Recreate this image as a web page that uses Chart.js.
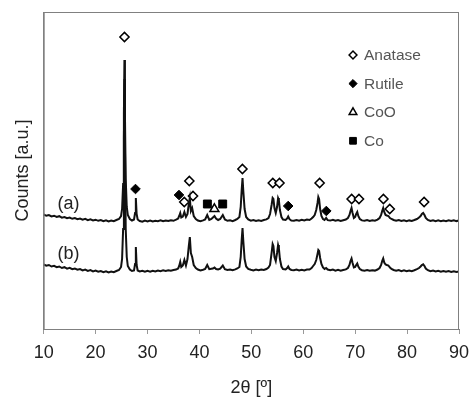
<!DOCTYPE html>
<html>
<head>
<meta charset="utf-8">
<script src="https://cdn.jsdelivr.net/npm/chart.js@4.4.0/dist/chart.umd.min.js"></script>
<style>
  body { margin: 0; background: #fff; }
  #wrap { width: 471px; height: 397px; }
</style>
</head>
<body>
<div id="wrap"><canvas id="myChart" width="471" height="397"></canvas></div>
<script>
// 2theta positions (deg), one line per region
const twoTheta = [
  10, 10.5, 11, 11.5, 12, 12.5, 13, 13.5, 14, 14.5, 15, 15.5, 16, 16.5, 17, 17.5, 18, 18.5, 19, 19.5, 20, 20.5, 21, 21.5, 22, 22.5, 23, 23.5, 24,
  24.5, 24.9, 25.1, 25.3, 25.45, 25.55, 25.65, 25.8, 26.0, 26.2, 26.6, 27.0,
  27.4, 27.6, 27.75, 27.9, 28.1,
  28.5, 29, 29.5, 30, 30.5, 31, 31.5, 32, 32.5, 33, 33.5, 34, 34.5, 35, 35.5,
  35.9, 36.1, 36.3, 36.5, 36.8, 37.1, 37.4, 37.7, 37.95, 38.15, 38.35, 38.6, 38.9, 39.3,
  39.7, 40.2, 40.7, 41.1, 41.5, 41.9, 42.3, 42.6, 42.9, 43.2, 43.6, 44.0, 44.5, 44.9, 45.4, 45.9, 46.4, 46.9, 47.3,
  47.7, 47.95, 48.15, 48.3, 48.45, 48.7, 49.0, 49.4,
  49.9, 50.4, 50.9, 51.4, 51.9, 52.4, 52.9, 53.3,
  53.6, 53.9, 54.1, 54.25, 54.45, 54.7, 54.95, 55.15, 55.3, 55.5, 55.8, 56.1,
  56.6, 56.9, 57.1, 57.35, 57.7,
  58.2, 58.7, 59.2, 59.7, 60.2, 60.7, 61.2, 61.6, 61.9,
  62.2, 62.5, 62.75, 62.9, 63.05, 63.25, 63.5, 63.8,
  64.1, 64.4, 64.7,
  65.2, 65.7, 66.2, 66.7, 67.2, 67.7, 68.2, 68.6,
  68.9, 69.1, 69.3, 69.5, 69.75, 70.0, 70.2, 70.4, 70.6, 70.9, 71.3,
  71.8, 72.3, 72.8, 73.3, 73.8, 74.3, 74.7,
  75.0, 75.2, 75.4, 75.6, 75.85, 76.1, 76.4, 76.7, 77.0, 77.4,
  77.9, 78.4, 78.9, 79.4, 79.9, 80.4, 80.9, 81.4, 81.9, 82.3,
  82.6, 82.85, 83.1, 83.35, 83.6, 84.0,
  84.5, 85, 85.5, 86, 86.5, 87, 87.5, 88, 88.5, 89, 89.5, 90
];

// pattern (a), counts in a.u. (offset upward)
const countsA = [
  114.5, 113.2, 114, 112.6, 113.3, 112, 112.8, 111.4, 112, 110.8, 111.5, 110.2, 111, 109.8, 110.5, 109.3, 110.1, 108.8, 109.6, 108.5, 109.3, 108.2, 109, 107.8, 108.7, 107.6, 108.5, 107.9, 109,
  110, 113, 120, 145, 215, 269, 215, 150, 122, 114, 110, 108.5,
  109.5, 116, 131, 115, 109.5,
  108, 107.3, 108.4, 107.6, 108.5, 107.5, 108.3, 107.8, 108.6, 107.7, 108.4, 108, 108.8, 108.2, 109.3,
  110.5, 113, 116, 111.5, 112.5, 117, 112, 115, 125, 131, 118, 121, 113, 110,
  108.5, 107.8, 108.6, 109.5, 114, 109, 110, 111.5, 113, 110.5, 109, 110, 114, 109.5, 108.2, 108.8, 107.9, 109, 110,
  112, 122, 140, 151, 138, 120, 112, 109.5,
  108.3, 109, 108, 108.8, 108.1, 109, 109.6, 111,
  115, 124, 131, 130, 121, 116, 122, 131, 129, 119, 112, 109.5,
  109, 110.5, 112.5, 109.8, 108.5,
  108.2, 109, 108.3, 109.2, 108.5, 109.4, 109, 110.5, 112,
  114, 119, 126, 132, 130, 120, 113, 110,
  109, 111, 108.8,
  108.4, 109.1, 108.2, 108.9, 108, 108.8, 109.5, 111,
  114, 118, 121, 116, 111, 112, 115, 117, 113, 110, 108.6,
  108.2, 108.9, 108, 108.7, 108.3, 109.4, 111,
  114, 118, 121, 117, 114, 113.5, 113, 111, 110, 109,
  108.2, 108.9, 108, 108.7, 107.9, 108.6, 108.1, 109, 110, 111.5,
  113, 115, 116, 114, 111, 109,
  108, 108.8, 107.9, 108.6, 107.8, 108.5, 107.9, 108.7, 108, 108.6, 107.9, 108.4
];

// pattern (b)
const countsB = [
  64.5, 63.3, 64, 62.5, 63.2, 61.8, 62.5, 61, 61.8, 60.4, 61.2, 59.8, 60.5, 59.3, 60, 58.6, 59.4, 58.1, 58.9, 57.6, 58.4, 57.3, 58, 56.9, 57.7, 56.6, 57.5, 56.9, 58,
  59, 62, 70, 100, 190, 250, 185, 100, 72, 63, 59.5, 58,
  58.5, 65, 82, 64, 58.5,
  57.6, 58.2, 57.2, 58.1, 57.4, 58.3, 57.6, 58.5, 57.8, 58.6, 58, 58.8, 58.2, 59, 59.4,
  60.5, 63, 67, 62, 63.5, 69, 63.5, 70, 83, 92, 76, 72, 64, 61,
  59.5, 58.6, 59.3, 60, 64, 59.8, 60.2, 60.5, 61.5, 60, 59.6, 60.3, 63.5, 59.8, 59, 59.5, 58.8, 59.6, 60.5,
  62, 72, 90, 101, 88, 70, 62.5, 60,
  59.2, 58.6, 59.4, 58.8, 59.5, 59, 60, 61.5,
  64, 76, 85, 83, 72, 68, 76, 84, 81, 70, 62.5, 60,
  59.5, 61, 62.5, 60, 59,
  58.8, 59.5, 58.6, 59.3, 58.5, 59.4, 59.5, 61, 63,
  65, 69, 75, 79, 78, 71, 65, 61.5,
  60, 61, 59.5,
  58.8, 59.4, 58.4, 59.1, 58.3, 59, 59.6, 61,
  64, 68, 70.5, 66, 61.5, 62, 64, 65.5, 62.5, 60, 58.8,
  58.3, 59, 58.2, 58.8, 58.4, 59.5, 61,
  64, 68, 70.5, 66.5, 64.5, 64, 63.5, 61.5, 60, 59,
  58.2, 58.9, 57.9, 58.6, 57.8, 58.5, 57.9, 58.8, 59.8, 61,
  62.5, 64, 64.7, 63, 60.5, 58.8,
  57.8, 58.4, 57.5, 58.2, 57.3, 58, 57.2, 57.9, 57.1, 57.8, 57, 57.5
];

// phase markers placed above the peaks
const anataseX = [25.56, 37.08, 38.05, 38.76, 48.28, 54.13, 55.42, 63.15, 69.32, 70.73, 75.44, 76.66, 83.28];
const anataseY = [292, 127, 148, 133, 160, 146, 146, 146, 130, 130, 130, 120, 127];
const rutileX = [27.68, 36.06, 57.1, 64.44];
const rutileY = [140, 134, 123, 118];
const cooX = [42.88];
const cooY = [120];
const coX = [41.53, 44.48];
const coY = [125, 125];

const phaseNames = ["Anatase", "Rutile", "CoO", "Co"];
const xTicks = [10, 20, 30, 40, 50, 60, 70, 80, 90];

const FONT = "'Liberation Sans', Arial, sans-serif";

function toPoints(xs, ys) {
  return xs.map(function (x, i) {
    return { x: x, y: ys[i] };
  });
}

// marker styles, also used by the legend
const markerStyles = [
  { pointStyle: "rectRot", radius: 4.6, fill: "#fff", border: "#000", bw: 1.5 },
  { pointStyle: "rectRot", radius: 4.8, fill: "#000", border: "#000", bw: 1 },
  { pointStyle: "triangle", radius: 5.2, fill: "#fff", border: "#000", bw: 1.5 },
  { pointStyle: "rect", radius: 5.6, fill: "#000", border: "#000", bw: 1 },
];

function markerSet(label, xs, ys, st) {
  return {
    label: label,
    type: "scatter",
    data: toPoints(xs, ys),
    pointStyle: st.pointStyle,
    pointRadius: st.radius,
    pointBackgroundColor: st.fill,
    pointBorderColor: st.border,
    pointBorderWidth: st.bw,
    showLine: false,
  };
}

// frame, legend and the (a)/(b) labels
const decor = {
  id: "decor",
  afterDatasetsDraw: function (chart) {
    const ctx = chart.ctx;
    const a = chart.chartArea;
    const xs = chart.scales.x;
    const ys = chart.scales.y;
    ctx.save();
    ctx.strokeStyle = "#808080";
    ctx.lineWidth = 1;
    ctx.strokeRect(a.left + 0.5, a.top + 0.5, a.right - a.left - 1, a.bottom - a.top);

    ctx.fillStyle = "#222";
    ctx.font = "18px " + FONT;
    ctx.textAlign = "center";
    ctx.textBaseline = "middle";
    ctx.fillText("(a)", xs.getPixelForValue(14.8), ys.getPixelForValue(125));
    ctx.fillText("(b)", xs.getPixelForValue(14.8), ys.getPixelForValue(75));

    // legend
    ctx.font = "15.5px " + FONT;
    ctx.textAlign = "left";
    for (let i = 0; i < phaseNames.length; i++) {
      const st = markerStyles[i];
      const y = 55 + i * 28.6;
      ctx.fillStyle = st.fill;
      ctx.strokeStyle = st.border;
      ctx.lineWidth = st.bw;
      Chart.helpers.drawPoint(ctx, { pointStyle: st.pointStyle, radius: st.radius * 0.85, rotation: 0, borderWidth: st.bw }, 353, y);
      ctx.fillStyle = "#555";
      ctx.fillText(phaseNames[i], 364, y + 1);
    }
    ctx.restore();
  },
};

const ctx = document.getElementById("myChart").getContext("2d");
const chart = new Chart(ctx, {
  type: "line",
  data: {
    datasets: [
      {
        label: "(a)",
        data: toPoints(twoTheta, countsA),
        borderColor: "#111",
        borderWidth: 2,
        pointRadius: 0,
        tension: 0,
        fill: false,
      },
      {
        label: "(b)",
        data: toPoints(twoTheta, countsB),
        borderColor: "#111",
        borderWidth: 2,
        pointRadius: 0,
        tension: 0,
        fill: false,
      },
      markerSet("Anatase", anataseX, anataseY, markerStyles[0]),
      markerSet("Rutile", rutileX, rutileY, markerStyles[1]),
      markerSet("CoO", cooX, cooY, markerStyles[2]),
      markerSet("Co", coX, coY, markerStyles[3]),
    ],
  },
  options: {
    responsive: false,
    animation: false,
    layout: { padding: { left: 0, right: 12, top: 12, bottom: 0 } },
    plugins: {
      legend: { display: false },
      tooltip: { enabled: false },
    },
    scales: {
      x: {
        type: "linear",
        position: "bottom",
        min: 10,
        max: 90,
        afterBuildTicks: function (scale) {
          scale.ticks = xTicks.map(function (v) {
            return { value: v };
          });
        },
        afterFit: function (scale) {
          scale.height = 68;
          scale.paddingLeft = 0;
          scale.paddingRight = 0;
        },
        grid: { drawOnChartArea: false, drawTicks: true, tickLength: 5, color: "#999" },
        border: { display: true, color: "#808080" },
        ticks: { padding: 8, color: "#222", font: { family: FONT, size: 18 }, maxRotation: 0 },
        title: {
          display: true,
          text: "2θ [º]",
          color: "#222",
          font: { family: FONT, size: 18 },
          padding: { top: 12, bottom: -2 },
        },
      },
      y: {
        type: "linear",
        min: 0,
        max: 317,
        afterFit: function (scale) {
          scale.width = 43.7;
        },
        grid: { display: false },
        border: { display: true, color: "#808080" },
        ticks: { display: false },
        title: {
          display: true,
          text: "Counts [a.u.]",
          color: "#222",
          font: { family: FONT, size: 18 },
          padding: { top: 12, bottom: 10 },
        },
      },
    },
  },
  plugins: [decor],
});
</script>
</body>
</html>
